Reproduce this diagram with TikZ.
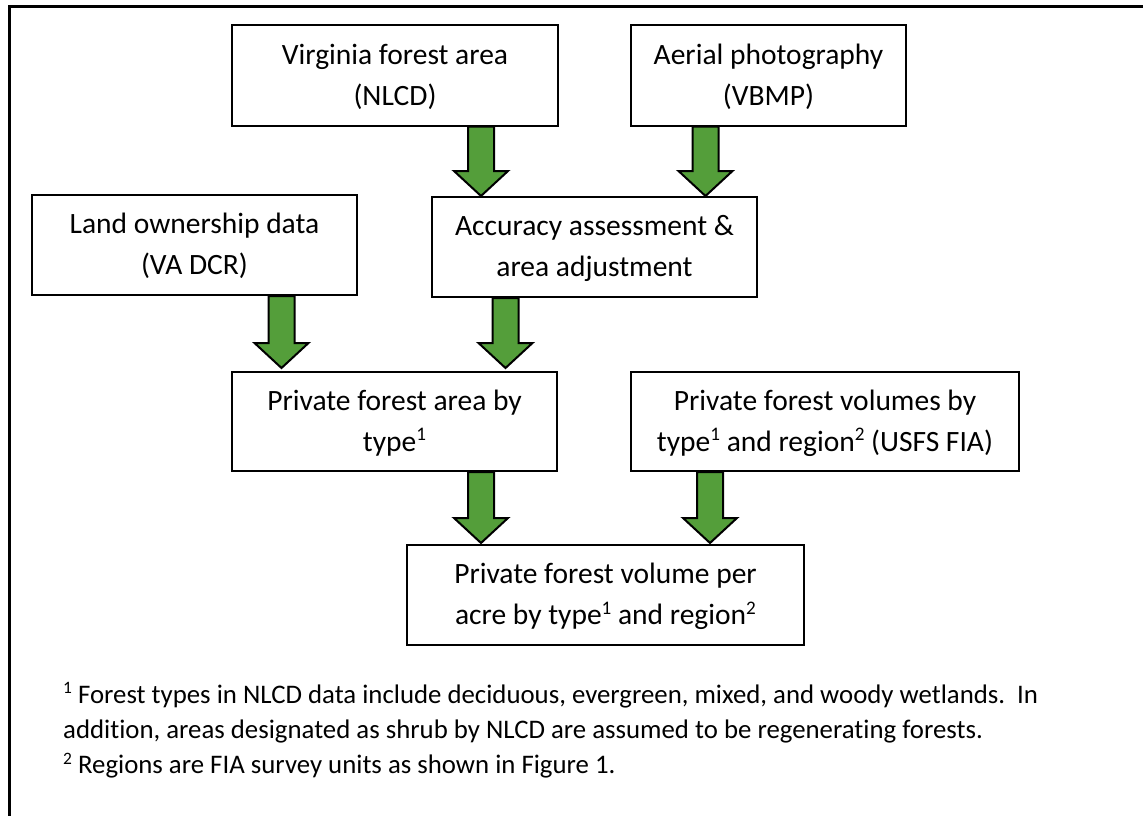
\documentclass[tikz,border=0pt]{standalone}
\usepackage{fontspec}
\usepackage{graphicx}
\setmainfont{Carlito}[Ligatures=CommonOff]
\usetikzlibrary{calc}
\definecolor{arrowgreen}{RGB}{84,158,58}
\newcommand\supx[1]{\raisebox{0.34em}{\scalebox{0.65}{#1}}}
\newcommand\lstrut{\rule[-8pt]{0pt}{34pt}}
\newcommand\blockarrow[2]{\draw[blockarrowstyle] let \p1=#1, \p2=#2 in
  (\x1-13pt,\y1) -- (\x1+13pt,\y1) -- (\x1+13pt,\y2+25pt) -- (\x1+27pt,\y2+25pt)
  -- (\x1,\y2) -- (\x1-27pt,\y2+25pt) -- (\x1-13pt,\y2+25pt) -- cycle;}
\begin{document}
\begin{tikzpicture}[x=1pt,y=-1pt,
  flowbox/.style={draw=black, line width=2pt, fill=white, inner sep=0pt,
    minimum height=100pt, align=center, font=\fontsize{29.5}{41}\selectfont},
  blockarrowstyle/.style={draw=black, line width=2pt, fill=arrowgreen, line join=miter},
  fnote/.style={anchor=base west, inner sep=0pt, font=\fontsize{26.8}{35.4}\selectfont},
  frameline/.style={draw=black, line width=3pt}]
\useasboundingbox (0,0) rectangle (1143,816);
\clip (0,0) rectangle (1143,816);
\fill[white] (0,0) rectangle (1143,816);
\draw[frameline] (9.5,830) -- (9.5,6.5) -- (1160,6.5);

\node[flowbox, minimum width=326pt] (v) at (395,75.5) {\lstrut Virginia forest area\\\lstrut (NLCD)};
\node[flowbox, minimum width=275pt] (a) at (768.5,75.5) {\lstrut Aerial photography\\\lstrut (VBMP)};
\node[flowbox, minimum width=325pt] (l) at (194.5,245) {\lstrut Land ownership data\\\lstrut (VA DCR)};
\node[flowbox, minimum width=325pt] (acc) at (594.5,247) {\lstrut Accuracy assessment \&\\\lstrut area adjustment};
\node[flowbox, minimum width=325pt, minimum height=99pt] (p) at (394.5,421.5) {\lstrut Private forest area by\\\lstrut type\supx{1}};
\node[flowbox, minimum width=388pt, minimum height=99pt] (vol) at (825,421.5) {\lstrut Private forest volumes by\\\lstrut type\supx{1} and region\supx{2} (USFS FIA)};
\node[flowbox, minimum width=397pt] (bot) at (605.5,595) {\lstrut Private forest volume per\\\lstrut acre by type\supx{1} and region\supx{2}};

\coordinate (x1) at (481,0);
\coordinate (x2) at (705.5,0);
\coordinate (x3) at (281.5,0);
\coordinate (x4) at (505.5,0);
\coordinate (x5) at (481,0);
\coordinate (x6) at (710,0);

\blockarrow{(v.south -| x1)}{(acc.north -| x1)}
\blockarrow{(a.south -| x2)}{(acc.north -| x2)}
\blockarrow{(l.south -| x3)}{($(p.north -| x3)+(0,-3)$)}
\blockarrow{(acc.south -| x4)}{($(p.north -| x4)+(0,-3)$)}
\blockarrow{(p.south -| x5)}{($(bot.north -| x5)+(0,-1)$)}
\blockarrow{(vol.south -| x6)}{($(bot.north -| x6)+(0,-1)$)}

\node[fnote] (fn1) at (63,703) {\supx{1} Forest types in NLCD data include deciduous, evergreen, mixed, and woody wetlands.\ \ In};
\node[fnote] (fn2) at (63,738.4) {addition, areas designated as shrub by NLCD are assumed to be regenerating forests.};
\node[fnote] (fn3) at (63,773.8) {\supx{2} Regions are FIA survey units as shown in Figure 1.};
\end{tikzpicture}
\end{document}
